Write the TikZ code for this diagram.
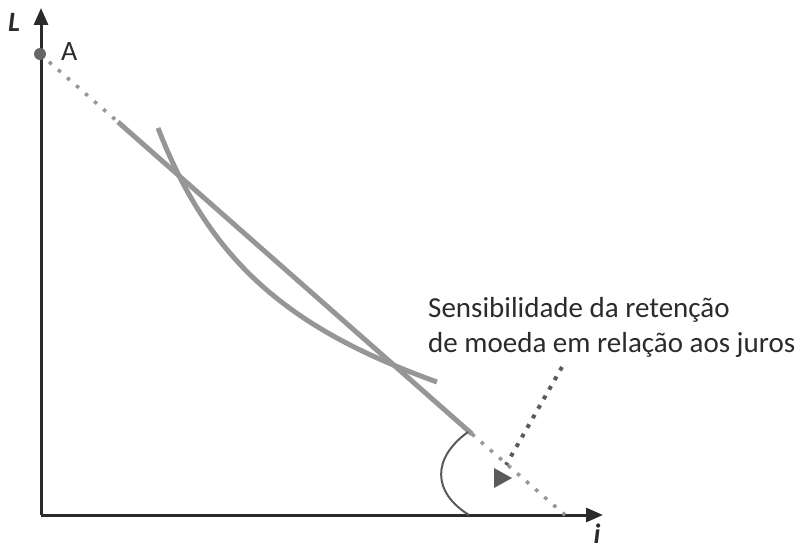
\documentclass[tikz,border=0pt]{standalone}
\usepackage{fontspec}
\setmainfont{Carlito}
\usetikzlibrary{arrows.meta}
\definecolor{axiscol}{HTML}{2B2B2B}
\definecolor{linecol}{HTML}{969696}
\definecolor{darkcol}{HTML}{5A5A5A}
\definecolor{dotcol}{HTML}{666666}
\tikzset{
    axis/.style = {draw = axiscol, line width = 3pt, -{Triangle[length = 17pt, width = 14pt]}},
    lmline/.style = {draw = linecol, line width = 5pt},
    lmdots/.style = {draw = linecol, line width = 3.5pt, dash pattern = on 3.5pt off 8.5pt},
    pointer/.style = {draw = darkcol, line width = 4pt, dash pattern = on 4pt off 7pt},
    lbl/.style = {font = \fontsize{28}{32}\selectfont, inner sep = 0pt, text = axiscol}
}
\begin{document}
\begin{tikzpicture}[x = 1pt, y = -1pt]
                \useasboundingbox (0,0) rectangle (803,551);
                % axes
                \coordinate (O) at (41,515);
                \coordinate (ytip) at (41,8);
                \coordinate (xtip) at (603,515);
                \draw[axis] (O) -- (ytip);
                \draw[axis] (O) -- (xtip);
                \node[lbl, anchor = base west] (Llab) at (8,32) {\bfseries\itshape L};
                \node[lbl, anchor = base] (ilab) at (597,543) {\bfseries\itshape i};
                % straight line through A
                \coordinate (A) at (40,54);
                \coordinate (s1) at (118,122);
                \coordinate (s2) at (472,434);
                \coordinate (Ai) at (565,515);
                \draw[lmdots] (A) -- (s1);
                \draw[lmdots] (s2) -- (Ai);
                \draw[lmline] (s1) -- (s2);
                \fill[dotcol] (A) circle[radius = 6];
                \node[lbl, anchor = base west] (Alab) at (61,61) {A};
                % curve
                \coordinate (c1) at (158,128);
                \coordinate (c2) at (437,382);
                \draw[lmline] (c1) .. controls (212,268) and (296,331) .. (c2);
                % angle arc
                \coordinate (a1) at (468,432);
                \coordinate (a2) at (469,515);
                \draw[draw = darkcol, line width = 2pt] (a1) .. controls (432,458) and (432,492) .. (a2);
                % note
                \node[anchor = base west, align = left, inner sep = 0pt,
                      font = \fontsize{29}{35}\selectfont, text = axiscol] (note) at (428,352)
                      {Sensibilidade da retenção\\de moeda em relação aos juros};
                \coordinate (p1) at (562,367);
                \coordinate (p2) at (506,465);
                \draw[pointer] (p1) -- (p2);
                \fill[darkcol] (494,468) -- (512,478) -- (494,488) -- cycle;
            \end{tikzpicture}
\end{document}
